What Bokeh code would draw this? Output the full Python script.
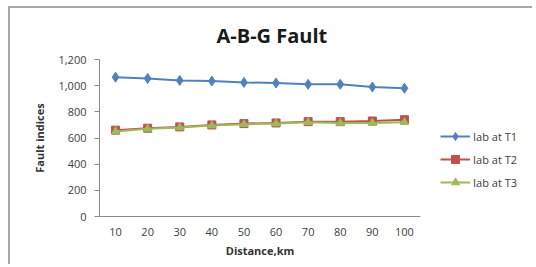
from bokeh.plotting import figure
from bokeh.layouts import row
from bokeh.models import FactorRange, Range1d, NumeralTickFormatter, Legend, LegendItem, FixedTicker
from bokeh.embed import file_html
from bokeh.resources import INLINE

distance = ["10", "20", "30", "40", "50", "60", "70", "80", "90", "100"]
iab_t1 = [1065, 1055, 1040, 1035, 1025, 1020, 1010, 1010, 990, 980]
iab_t2 = [660, 675, 685, 700, 710, 715, 725, 725, 730, 740]
iab_t3 = [650, 670, 680, 695, 705, 710, 720, 715, 715, 720]
series_names = ["Iab at T1", "Iab at T2", "Iab at T3"]
y_ticks = [0, 200, 400, 600, 800, 1000, 1200]

FONT = "Open Sans"
H = 256
p = figure(width=420, height=H, output_backend="svg", toolbar_location=None,
           x_range=FactorRange(*distance), y_range=Range1d(0, 1200),
           min_border_left=89, min_border_right=10, min_border_top=51, min_border_bottom=H - 51 - 157,
           title="A-B-G  Fault")
p.title.align = "left"
p.title.offset = 117
p.title.text_font = FONT
p.title.text_font_size = "20px"
p.title.text_font_style = "bold"
p.title.text_color = "#1a1a1a"
p.title.standoff = 21
p.outline_line_color = None
p.xgrid.visible = False
p.ygrid.visible = False
p.x_range.range_padding = 0

p.yaxis.ticker = FixedTicker(ticks=y_ticks)
p.yaxis.formatter = NumeralTickFormatter(format="0,0")
p.yaxis.axis_label = "Fault indices"
p.xaxis.axis_label = "Distance,km"
for ax in (p.xaxis, p.yaxis):
    ax.axis_line_color = "#8a8a8a"
    ax.major_tick_line_color = "#8a8a8a"
    ax.minor_tick_line_color = None
    ax.major_label_text_font = FONT
    ax.major_label_text_font_size = "11px"
    ax.major_label_text_color = "#404040"
    ax.axis_label_text_font = FONT
    ax.axis_label_text_font_size = "11px"
    ax.axis_label_text_font_style = "bold"
    ax.axis_label_text_color = "#333333"
p.xaxis.major_tick_line_color = None
p.yaxis.major_tick_in = 0
p.yaxis.major_tick_out = 5
p.xaxis.major_label_standoff = 5
p.xaxis.axis_label_standoff = 4
p.yaxis.major_label_standoff = 8
p.yaxis.axis_label_standoff = 8

colors = ["#4F81BD", "#C0504D", "#9BBB59"]
markers = ["diamond", "square", "triangle"]
msizes = [10, 8, 8]
for ys, c, mk, ms in zip([iab_t1, iab_t2, iab_t3], colors, markers, msizes):
    p.line(distance, ys, color=c, line_width=2)
    p.scatter(distance, ys, marker=mk, size=ms, color=c)

# legend panel (placeholder renderers with no visible data, used only for legend glyphs)
q = figure(width=102, height=H, output_backend="svg", toolbar_location=None,
           x_range=Range1d(0, 1), y_range=Range1d(0, 1), min_border=0)
q.axis.visible = False
q.grid.visible = False
q.outline_line_color = None
nan = float("nan")
items = []
for name, c, mk, ms in zip(series_names, colors, markers, msizes):
    lr = q.line([nan], [nan], color=c, line_width=2)
    sr = q.scatter([nan], [nan], marker=mk, size=ms, color=c)
    items.append(LegendItem(label=name, renderers=[lr, sr]))
legend = Legend(items=items, location=(10, 24), border_line_color=None,
                background_fill_alpha=0, label_text_font=FONT, label_text_font_size="11px",
                label_text_color="#404040", spacing=3, glyph_width=30, label_standoff=3,
                padding=0, margin=0)
q.add_layout(legend, "center")

layout = row(p, q)
layout.margin = (6, 0, 0, 8)
layout.styles = {"border-left": "2px solid #a8a8a8", "border-top": "2px solid #a8a8a8"}

open("out.html", "w").write(file_html(layout, INLINE))
